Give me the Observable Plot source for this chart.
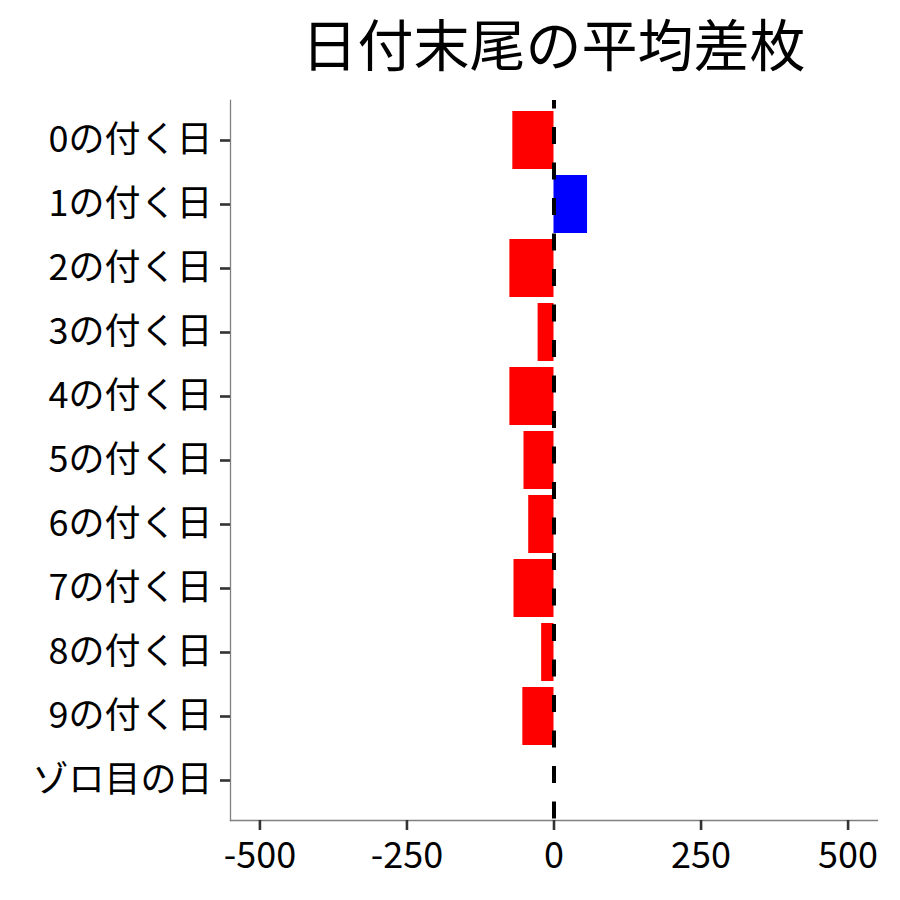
<!DOCTYPE html>
<html>
<head>
<meta charset="utf-8">
<script src="https://cdn.jsdelivr.net/npm/d3@7"></script>
<script src="https://cdn.jsdelivr.net/npm/@observablehq/plot@0.6"></script>
<style>
  html, body { margin: 0; padding: 0; background: white; }
  #wrap { width: 900px; font-family: 'Noto Sans CJK JP', sans-serif; }
  #title { position: relative; height: 90px; }
  #title span { position: absolute; left: 553.5px; top: 42px; transform: translate(-50%, -50%);
    white-space: nowrap; font-size: 56px; color: black; line-height: 1; }
</style>
</head>
<body>
<div id="wrap">
  <div id="title"><span id="titleText"></span></div>
  <div id="chart"></div>
</div>
<script>
const titleText = "日付末尾の平均差枚";
const categories = ["0の付く日", "1の付く日", "2の付く日", "3の付く日", "4の付く日",
  "5の付く日", "6の付く日", "7の付く日", "8の付く日", "9の付く日", "ゾロ目の日"];
const values = [-70, 57, -75, -27, -75, -51, -43, -68, -21, -53, 0];
const xTicks = [-500, -250, 0, 250, 500];
const xDomain = [-550, 550];

document.getElementById("titleText").textContent = titleText;

const data = categories.map((c, i) => ({cat: c, value: values[i]}));

const chart = Plot.plot({
  width: 900,
  height: 810,
  marginTop: 10,
  marginBottom: 80,
  marginLeft: 230,
  marginRight: 23,
  style: {fontFamily: "'Noto Sans CJK JP', sans-serif", background: "white", overflow: "visible"},
  x: {domain: xDomain, ticks: xTicks, label: null},
  y: {domain: categories, paddingInner: 0.1, paddingOuter: 0.15, label: null},
  marks: [
    Plot.barX(data.filter(d => d.value < 0), {x: "value", y: "cat", fill: "#FF0000"}),
    Plot.barX(data.filter(d => d.value > 0), {x: "value", y: "cat", fill: "#0000FF"}),
    Plot.ruleX([0], {stroke: "black", strokeWidth: 4, strokeDasharray: "17,18.5", strokeDashoffset: 8.5}),
    Plot.frame({anchor: "left", stroke: "#808080", strokeWidth: 1.3}),
    Plot.frame({anchor: "bottom", stroke: "#808080", strokeWidth: 1.3}),
    Plot.axisY({tickSize: 10, tickPadding: 8, fontSize: 36, stroke: "#333333", strokeWidth: 2.6, fill: "black", label: null}),
    Plot.axisX({ticks: xTicks, tickSize: 10, tickPadding: 12, fontSize: 36, stroke: "#333333", strokeWidth: 2.6, fill: "black", label: null, tickFormat: d => String(d)})
  ]
});
document.getElementById("chart").appendChild(chart);
</script>
</body>
</html>
